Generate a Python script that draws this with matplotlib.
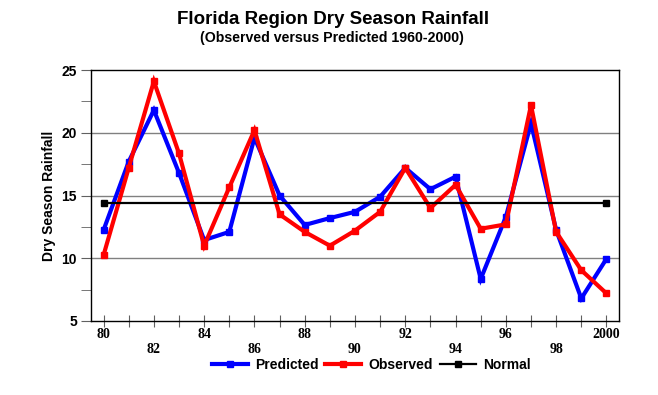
import matplotlib.pyplot as plt
from matplotlib.ticker import MultipleLocator

years = list(range(80, 101))
predicted = [12.25, 17.7, 21.8, 16.8, 11.45, 12.1, 19.6, 15.0, 12.65, 13.2, 13.7,
             14.9, 17.2, 15.5, 16.5, 8.35, 13.3, 20.75, 12.25, 6.8, 9.95]
observed = [10.25, 17.2, 24.1, 18.35, 11.0, 15.65, 20.2, 13.5, 12.1, 11.0, 12.2,
            13.7, 17.2, 14.0, 15.85, 12.35, 12.7, 22.2, 12.1, 9.05, 7.2]
normal_years = [80, 100]
normal = [14.4, 14.4]
label_years = {80: "80", 82: "82", 84: "84", 86: "86", 88: "88", 90: "90",
               92: "92", 94: "94", 96: "96", 98: "98", 100: "2000"}

plt.rcParams['font.family'] = ['Liberation Sans', 'DejaVu Sans']
plt.rcParams['font.weight'] = 'bold'

fig = plt.figure(figsize=(6.58, 3.95), dpi=100)
ax = fig.add_axes([91 / 658, 1 - 321 / 395, 528 / 658, 251 / 395])

for y in [10, 15, 20]:
    ax.axhline(y, color='#808080', lw=1, zorder=0)

ax.plot(years, predicted, color='#0000ff', lw=3, marker='s', ms=4,
        label='Predicted', solid_joinstyle='miter')
ax.plot(years, observed, color='#ff0000', lw=3, marker='s', ms=4,
        label='Observed', solid_joinstyle='miter')
ax.plot(normal_years, normal, color='black', lw=1.6, marker='s', ms=4,
        label='Normal')

ax.set_xlim(79.5, 100.5)
ax.set_ylim(5, 25)

# x ticks: every year, labels only for even years in two staggered rows
labels = []
for i, yr in enumerate(years):
    if yr in label_years:
        txt = label_years[yr]
        if (yr - 80) % 4 == 2:
            txt = "\n" + txt
        labels.append(txt)
    else:
        labels.append("")
ax.set_xticks(years)
ax.set_xticklabels(labels, family=['Liberation Serif'], fontsize=10,
                   fontweight='bold', linespacing=1.25)
ax.tick_params(axis='x', direction='inout', length=8, color='#606060', pad=1)

ax.yaxis.set_major_locator(MultipleLocator(5))
ax.yaxis.set_minor_locator(MultipleLocator(2.5))
ax.tick_params(axis='y', which='both', direction='out', length=7,
               color='#606060', labelsize=10, pad=3)
ax.set_ylabel("Dry Season Rainfall", fontsize=10, fontweight='bold', labelpad=4)

for s in ax.spines.values():
    s.set_color('black')
    s.set_linewidth(1)

fig.text(333 / 658, 1 - 19 / 395, "Florida Region Dry Season Rainfall",
         ha='center', va='center', fontsize=13.5, fontweight='bold')
fig.text(332 / 658, 1 - 38 / 395, "(Observed versus Predicted 1960-2000)",
         ha='center', va='center', fontsize=10.2, fontweight='bold')

fig.legend(loc='center', bbox_to_anchor=(371 / 658, 1 - 365 / 395), ncol=3,
           frameon=False, fontsize=10, handlelength=2.6, handletextpad=0.5,
           columnspacing=0.5, borderaxespad=0)

fig.savefig("out.png", dpi=100)
